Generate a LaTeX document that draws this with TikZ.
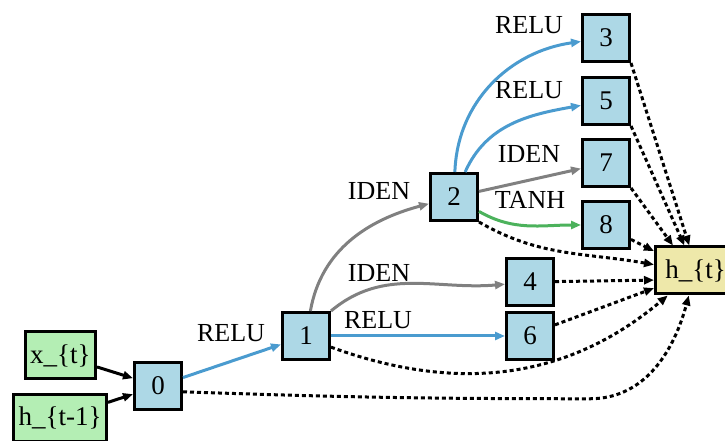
\documentclass[tikz,border=0pt]{standalone}
\usepackage{fontspec}
\setmainfont{Liberation Serif}
\usetikzlibrary{positioning,arrows.meta}

\definecolor{opfill}{RGB}{173,216,230}
\definecolor{infill}{RGB}{180,238,180}
\definecolor{outfill}{RGB}{238,232,170}
\definecolor{relucol}{RGB}{74,155,207}
\definecolor{idencol}{RGB}{128,128,128}
\definecolor{tanhcol}{RGB}{76,178,92}

\begin{document}
\begin{tikzpicture}[x=1pt,y=1pt,font=\fontsize{27}{32}\selectfont,
						op/.style={draw,line width=3pt,fill=opfill,minimum width=47pt,minimum height=47pt,inner sep=0pt},
						inp/.style={draw,line width=3pt,fill=infill,minimum height=47pt,inner xsep=5pt},
						outp/.style={draw,line width=3pt,fill=outfill,minimum height=47pt,minimum width=80pt,inner xsep=6pt},
						lbl/.style={anchor=center,inner sep=0pt,font=\fontsize{26}{30}\selectfont},
						feed/.style={line width=3pt,-{Triangle[length=10pt,width=8pt]}},
						relu/.style={line width=3pt,draw=relucol,-{Triangle[length=10pt,width=8pt]}},
						iden/.style={line width=3pt,draw=idencol,-{Triangle[length=10pt,width=8pt]}},
						tanh/.style={line width=3pt,draw=tanhcol,-{Triangle[length=10pt,width=8pt]}},
						catedge/.style={line width=3pt,dash pattern=on 4pt off 3pt,-{Triangle[length=10pt,width=8pt]}}]
		\useasboundingbox (-158,-55) rectangle (567,386);

		\node[op]																(0)		{0};
		\node[inp,node distance=36pt,left=of 0,yshift=30.5pt]					(xt)	{x\_\{t\}};
		\node[inp,node distance=25pt,left=of 0,yshift=-32pt]					(hprev)	{h\_\{t-1\}};
		\node[op,node distance=98pt,right=of 0,yshift=50pt]						(1)		{1};
		\node[op,node distance=98pt,right=of 1,yshift=139pt]					(2)		{2};
		\node[op,node distance=174pt,right=of 1,yshift=54pt]					(4)		{4};
		\node[op,node distance=174pt,right=of 1]								(6)		{6};
		\node[op,node distance=102pt,right=of 2,yshift=159pt]					(3)		{3};
		\node[op,node distance=102pt,right=of 2,yshift=96pt]					(5)		{5};
		\node[op,node distance=102pt,right=of 2,yshift=34pt]					(7)		{7};
		\node[op,node distance=102pt,right=of 2,yshift=-28pt]					(8)		{8};
		\node[outp,node distance=23pt,right=of 8,yshift=-45.5pt]				(ht)	{h\_\{t\}};

		\draw[feed] (xt) -- (0);
		\draw[feed] (hprev) -- (0);
		\draw[relu] (0) -- node[lbl,at end,xshift=-50pt,yshift=11pt] {RELU} (1);
		\draw[iden] (1) to[out=80,in=195] node[lbl,at end,xshift=-50pt,yshift=13pt] {IDEN} (2);
		\draw[iden] (1.north east) to[out=40,in=185] node[lbl,at end,xshift=-126pt,yshift=11pt] {IDEN} (4);
		\draw[relu] (1) -- node[lbl,at end,xshift=-127pt,yshift=16pt] {RELU} (6);
		\draw[relu] (2) to[out=88,in=188] node[lbl,at end,xshift=-52pt,yshift=16.5pt] {RELU} (3);
		\draw[relu] (2) to[out=66,in=190] node[lbl,at end,xshift=-52pt,yshift=15.4pt] {RELU} (5);
		\draw[iden] (2) -- node[lbl,at end,xshift=-52pt,yshift=14.6pt] {IDEN} (7);
		\draw[tanh] (2) to[out=-30,in=180] node[lbl,at end,xshift=-51pt,yshift=25pt] {TANH} (8);

		\draw[catedge] (0.-13) to[out=-2,in=180] ++(407pt,-7pt) to[out=0,in=-105] (ht.-105);
		\draw[catedge] (1.-24) to[out=-20,in=-140] (ht.-138);
		\draw[catedge] (2.south east) to[out=-30,in=170] (ht.172);
		\draw[catedge] (3.south east) -- (ht.104);
		\draw[catedge] (5.south east) -- (ht.114);
		\draw[catedge] (7.south east) -- (ht.132);
		\draw[catedge] (8.-30) -- (ht.155);
		\draw[catedge] (4) -- (ht.193);
		\draw[catedge] (6.24) -- (ht.203);
	\end{tikzpicture}
\end{document}
